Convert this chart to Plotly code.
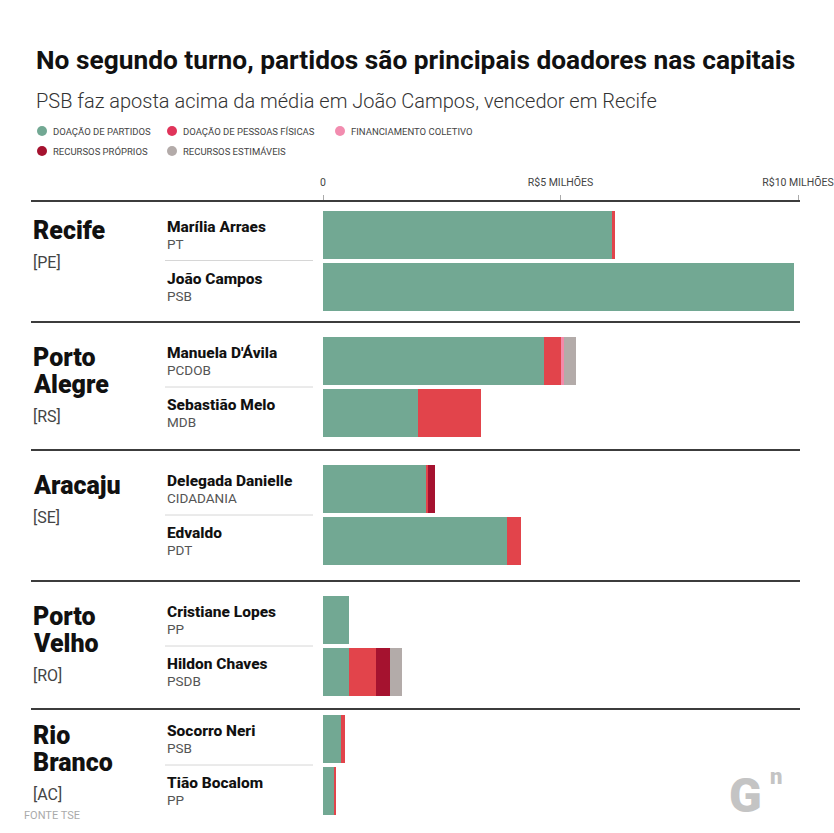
import plotly.graph_objects as go

# ---------------- data ----------------
cities = ["Recife", "Porto<br>Alegre", "Aracaju", "Porto<br>Velho", "Rio<br>Branco"]
states = ["[PE]", "[RS]", "[SE]", "[RO]", "[AC]"]
candidates = ["Marília Arraes", "João Campos", "Manuela D'Ávila", "Sebastião Melo",
              "Delegada Danielle", "Edvaldo", "Cristiane Lopes", "Hildon Chaves",
              "Socorro Neri", "Tião Bocalom"]
parties = ["PT", "PSB", "PCDOB", "MDB", "CIDADANIA", "PDT", "PP", "PSDB", "PSB", "PP"]

# values in R$ millions
doacao_partidos = [6.08, 9.91, 4.65, 2.00, 2.17, 3.87, 0.55, 0.55, 0.37, 0.24]
doacao_pessoas = [0.07, 0.00, 0.36, 1.33, 0.03, 0.30, 0.00, 0.57, 0.10, 0.03]
financiamento_coletivo = [0.00, 0.00, 0.07, 0.00, 0.00, 0.00, 0.00, 0.00, 0.00, 0.00]
recursos_proprios = [0.00, 0.00, 0.00, 0.00, 0.16, 0.00, 0.00, 0.30, 0.00, 0.00]
recursos_estimaveis = [0.00, 0.00, 0.25, 0.00, 0.00, 0.00, 0.00, 0.25, 0.00, 0.00]

series_names = ["DOAÇÃO DE PARTIDOS", "DOAÇÃO DE PESSOAS FÍSICAS", "FINANCIAMENTO COLETIVO",
                "RECURSOS PRÓPRIOS", "RECURSOS ESTIMÁVEIS"]
tick_vals = [0, 5, 10]
tick_text = ["0", "R$5 MILHÕES", "R$10 MILHÕES"]

# ---------------- styling / layout ----------------
W, H = 834, 833
bar_colors = ["#72a893", "#e2444b", "#f28aaa", "#a5122f", "#b3aba9"]
legend_colors = ["#72a893", "#e0345a", "#f28caf", "#a5122f", "#b3aba9"]
FONT = "Roboto"

group_first_center = [234.5, 361, 489, 620, 739]
pitch = 52
bar_h = 48
separators = [201, 322, 450, 581, 709]

ypos = []
for g in range(len(cities)):
    for r in range(2):
        ypos.append(group_first_center[g] + r * pitch)

series = [doacao_partidos, doacao_pessoas, financiamento_coletivo, recursos_proprios, recursos_estimaveis]

fig = go.Figure()
for name, vals, col in zip(series_names, series, bar_colors):
    fig.add_trace(go.Bar(
        x=vals, y=ypos, orientation="h", name=name,
        marker=dict(color=col, line=dict(width=0)),
        width=bar_h, showlegend=False, hoverinfo="x+name"))

def px_x(x):
    return x / W

def px_y(y):
    return 1 - y / H

shapes = []
annotations = []

# group separators (thick)
for s in separators:
    shapes.append(dict(type="line", xref="paper", yref="y", x0=px_x(31), x1=px_x(800),
                       y0=s, y1=s, line=dict(color="#3c3c3c", width=2)))

# thin separators between candidates
for g in range(len(cities)):
    yy = group_first_center[g] + pitch / 2
    shapes.append(dict(type="line", xref="paper", yref="y", x0=px_x(165), x1=px_x(313),
                       y0=yy, y1=yy, line=dict(color="#d6d6d6", width=1)))

# city / state labels (one annotation per line for tight leading)
for g, (c, st) in enumerate(zip(cities, states)):
    first = group_first_center[g] - bar_h / 2 + 20
    lines = c.split("<br>")
    for k, ln in enumerate(lines):
        annotations.append(dict(xref="paper", yref="y", x=px_x(31), y=first + 27 * k,
                                xanchor="left", yanchor="middle", text=ln, showarrow=False,
                                font=dict(family=FONT, size=25, color="#111", weight=900)))
    annotations.append(dict(xref="paper", yref="y", x=px_x(31), y=first + 27 * (len(lines) - 1) + 32,
                            xanchor="left", yanchor="middle", text=st, showarrow=False,
                            font=dict(family=FONT, size=16, color="#444")))

# candidate names & parties
for i, (cand, party) in enumerate(zip(candidates, parties)):
    annotations.append(dict(xref="paper", yref="y", x=px_x(165), y=ypos[i] - 8, xanchor="left",
                            yanchor="middle", text=cand, showarrow=False,
                            font=dict(family=FONT, size=15.5, color="#111", weight=800)))
    annotations.append(dict(xref="paper", yref="y", x=px_x(165), y=ypos[i] + 9, xanchor="left",
                            yanchor="middle", text=party, showarrow=False,
                            font=dict(family=FONT, size=13.5, color="#555")))

# title & subtitle
annotations.append(dict(xref="paper", yref="paper", x=px_x(34), y=px_y(60), xanchor="left",
                        yanchor="middle", showarrow=False,
                        text="No segundo turno, partidos são principais doadores nas capitais",
                        font=dict(family=FONT, size=26.3, color="#111", weight=700)))
annotations.append(dict(xref="paper", yref="paper", x=px_x(34), y=px_y(101), xanchor="left",
                        yanchor="middle", showarrow=False,
                        text="PSB faz aposta acima da média em João Campos, vencedor em Recife",
                        font=dict(family=FONT, size=20, color="#333", weight=300)))

# legend (manual)
leg_pos = [(42, 131), (172, 131), (340, 131), (42, 151), (172, 151)]
for (lx, ly), name, col in zip(leg_pos, series_names, legend_colors):
    shapes.append(dict(type="circle", xref="paper", yref="paper",
                       x0=px_x(lx - 5), x1=px_x(lx + 5), y0=px_y(ly - 5), y1=px_y(ly + 5),
                       fillcolor=col, line=dict(width=0)))
    annotations.append(dict(xref="paper", yref="paper", x=px_x(lx + 9), y=px_y(ly), xanchor="left",
                            yanchor="middle", text=name, showarrow=False,
                            font=dict(family=FONT, size=9.5, color="#444")))

# footer
annotations.append(dict(xref="paper", yref="paper", x=px_x(22), y=px_y(815), xanchor="left",
                        yanchor="middle", text="FONTE TSE", showarrow=False,
                        font=dict(family=FONT, size=11, color="#aaa")))
# watermark logo
annotations.append(dict(xref="paper", yref="paper", x=px_x(745), y=px_y(795), xanchor="center",
                        yanchor="middle", text="G", showarrow=False,
                        font=dict(family=FONT, size=48, color="#c4c4c4", weight=900)))
annotations.append(dict(xref="paper", yref="paper", x=px_x(776), y=px_y(776), xanchor="center",
                        yanchor="middle", text="n", showarrow=False,
                        font=dict(family=FONT, size=22, color="#c4c4c4", weight=900)))

fig.update_layout(
    width=W, height=H, margin=dict(l=0, r=0, t=0, b=0, autoexpand=False),
    paper_bgcolor="white", plot_bgcolor="white",
    barmode="stack", showlegend=False,
    shapes=shapes, annotations=annotations,
    xaxis=dict(range=[0, 10], domain=[323 / W, 798 / W], side="top", anchor="free",
               position=px_y(201), tickvals=tick_vals, ticktext=tick_text,
               ticks="outside", ticklen=6, tickcolor="#aaaaaa", showgrid=False,
               zeroline=False, showline=False, fixedrange=True, automargin=False,
               ticklabeloverflow="allow", ticklabelstandoff=5,
               tickfont=dict(family=FONT, size=10.5, color="#444")),
    yaxis=dict(range=[H, 0], domain=[0, 1], visible=False, fixedrange=True, automargin=False),
)

fig.write_html("out.html")
